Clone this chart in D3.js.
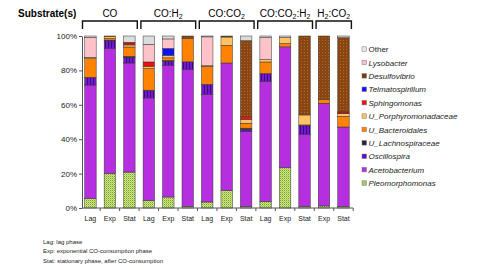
<!DOCTYPE html>
<html>
<head>
<meta charset="utf-8">
<script src="https://cdn.jsdelivr.net/npm/d3@7"></script>
<style>
  body { margin: 0; background: #fff; }
  svg { font-family: "Liberation Sans", Arial, sans-serif; }
</style>
</head>
<body>
<div id="chart"></div>
<script>
// phases on the x axis, one per bar
const phases = ["Lag", "Exp", "Stat", "Lag", "Exp", "Stat", "Lag", "Exp", "Stat", "Lag", "Exp", "Stat", "Exp", "Stat"];
// substrate groups above the bars
const groupNames = ["CO", "CO:H2", "CO:CO2", "CO:CO2:H2", "H2:CO2"];
const groupSizes = [3, 3, 3, 3, 2];

// genera, bottom of the stack first
const taxa = ["Pleomorphomonas", "Acetobacterium", "Oscillospira", "U_Lachnospiraceae", "U_Bacteroidales",
  "U_Porphyromonadaceae", "Sphingomonas", "Telmatospirillum", "Desulfovibrio", "Lysobacter", "Other"];

// relative abundance (%) per bar
const pleo    = [5.6, 20.2, 20.9, 4.5, 6.4, 1.0, 3.5, 10.3, 0.8, 3.9, 23.5, 1.0, 1.2, 1.0];
const aceto   = [65.9, 72.5, 63.4, 59.5, 76.4, 79.5, 62.6, 74.0, 43.6, 69.8, 70.2, 41.9, 59.7, 46.1];
const oscill  = [4.5, 4.5, 3.1, 4.5, 2.5, 4.5, 5.8, 0, 1.2, 4.5, 0, 5.2, 0, 0];
const lachno  = [0, 0.4, 0.8, 0, 0.5, 0, 0, 0, 0.8, 0, 0, 0, 0, 0];
const bact    = [10.8, 1.0, 5.4, 12.6, 1.5, 13.6, 10.5, 10.3, 2.9, 6.7, 1.9, 0.2, 2.3, 6.2];
const porph   = [0.8, 1.0, 1.2, 1.3, 1.5, 0.2, 0.3, 4.8, 2.3, 1.4, 3.5, 5.8, 0, 1.5];
const sphingo = [0, 0, 1.2, 2.5, 0, 0, 0, 0, 1.5, 0, 0, 0, 0, 1.0];
const telmato = [0, 0, 0, 0, 4.0, 0, 0, 0, 0, 0, 0, 0, 0, 0];
const desulfo = [0, 0.4, 0, 0, 0, 1.2, 0, 0.6, 44.2, 0, 0, 45.9, 36.8, 43.2];
const lyso    = [11.6, 0, 0.3, 10.3, 5.5, 0, 16.8, 0, 0, 12.8, 0, 0, 0, 0];
const other   = [0.8, 0, 3.7, 4.8, 1.7, 0, 0.5, 0, 2.7, 0.9, 0.9, 0, 0, 1.0];

const yTicks = [0, 20, 40, 60, 80, 100];
const notes = ["Lag: lag phase", "Exp: exponential CO-consumption phase", "Stat: stationary phase, after CO-consumption"];

const seriesValues = [pleo, aceto, oscill, lachno, bact, porph, sphingo, telmato, desulfo, lyso, other];

const width = 480, height = 270;
const svg = d3.select("#chart").append("svg")
  .attr("width", width)
  .attr("height", height);

// fill patterns
const defs = svg.append("defs");
const pGreen = defs.append("pattern").attr("id", "pat-pleo")
  .attr("patternUnits", "userSpaceOnUse").attr("width", 2).attr("height", 2);
pGreen.append("rect").attr("width", 2).attr("height", 2).attr("fill", "#cdec7c");
pGreen.append("rect").attr("width", 1).attr("height", 1).attr("fill", "#7a9a3a");
pGreen.append("rect").attr("x", 1).attr("y", 1).attr("width", 1).attr("height", 1).attr("fill", "#a8c860");

const pBrown = defs.append("pattern").attr("id", "pat-desulfo")
  .attr("patternUnits", "userSpaceOnUse").attr("width", 3).attr("height", 3);
pBrown.append("rect").attr("width", 3).attr("height", 3).attr("fill", "#8a4510");
pBrown.append("rect").attr("x", 1).attr("y", 1).attr("width", 1).attr("height", 1).attr("fill", "#a86a3a");

const pPurple = defs.append("pattern").attr("id", "pat-oscill")
  .attr("patternUnits", "userSpaceOnUse").attr("width", 3).attr("height", 3);
pPurple.append("rect").attr("width", 3).attr("height", 3).attr("fill", "#7418d0");
pPurple.append("rect").attr("width", 1).attr("height", 3).attr("fill", "#3c0a80");

const color = d3.scaleOrdinal()
  .domain(taxa)
  .range(["url(#pat-pleo)", "#b52ee0", "url(#pat-oscill)", "#28203c", "#ff8200",
    "#ffc264", "#ee1010", "#1010ff", "url(#pat-desulfo)", "#ffc2c8", "#dcdcdc"]);
const swatch = d3.scaleOrdinal()
  .domain(taxa)
  .range(["#a8c860", "#b52ee0", "#6010c0", "#28203c", "#ff8200",
    "#ffc264", "#ee1010", "#1010ff", "#7a3a0a", "#ffc2c8", "#e8e8e8"]);

const x = d3.scaleBand()
  .domain(d3.range(phases.length))
  .range([80.7, 353.2])
  .paddingInner(0.41)
  .paddingOuter(0.205);

const y = d3.scaleLinear().domain([0, 100]).range([208, 36]);

// stacked data
const rows = phases.map((p, i) => {
  const r = { i: i };
  taxa.forEach((t, k) => { r[t] = seriesValues[k][i]; });
  return r;
});
const stack = d3.stack().keys(taxa)(rows);

const bars = svg.append("g");
bars.selectAll("g")
  .data(stack)
  .enter().append("g")
  .attr("fill", d => color(d.key))
  .selectAll("rect")
  .data(d => d.filter(s => s[1] - s[0] > 0))
  .enter().append("rect")
  .attr("x", d => x(d.data.i))
  .attr("width", x.bandwidth())
  .attr("y", d => y(d[1]))
  .attr("height", d => y(d[0]) - y(d[1]))
  .attr("stroke", "#333")
  .attr("stroke-width", 0.5);

// y axis
const yAxis = svg.append("g")
  .attr("transform", "translate(82,0)")
  .call(d3.axisLeft(y).tickValues(yTicks).tickFormat(d => d + "%").tickSize(3).tickSizeOuter(0));
yAxis.select(".domain").attr("stroke", "#555");
yAxis.selectAll(".tick line").attr("stroke", "#555");
yAxis.selectAll("text").attr("font-size", 8).attr("fill", "#222").attr("x", -5);

// x axis: baseline with ticks between bars
const step = x.step();
const edges = d3.range(phases.length + 1).map(i => i < phases.length ? x(i) - step * x.paddingInner() / 2 : x(i - 1) + x.bandwidth() + step * x.paddingInner() / 2);
svg.append("line")
  .attr("x1", 82).attr("x2", edges[edges.length - 1])
  .attr("y1", y(0)).attr("y2", y(0))
  .attr("stroke", "#555");
svg.append("g").selectAll("line")
  .data(edges.slice(1))
  .enter().append("line")
  .attr("x1", d => d).attr("x2", d => d)
  .attr("y1", y(0)).attr("y2", y(0) + 3)
  .attr("stroke", "#555");
svg.append("g").selectAll("text")
  .data(phases)
  .enter().append("text")
  .attr("x", (d, i) => x(i) + x.bandwidth() / 2)
  .attr("y", 221)
  .attr("text-anchor", "middle")
  .attr("font-size", 7)
  .attr("fill", "#222")
  .text(d => d);

// substrate brackets
svg.append("text")
  .attr("x", 18).attr("y", 17)
  .attr("font-size", 10).attr("font-weight", "bold")
  .text("Substrate(s)");

let start = 0;
groupNames.forEach((name, g) => {
  const first = start, last = start + groupSizes[g] - 1;
  const x0 = edges[first] + 1.8, x1 = edges[last + 1] - 1.8;
  svg.append("path")
    .attr("d", `M${x0},29V21H${x1}V29`)
    .attr("fill", "none")
    .attr("stroke", "#111")
    .attr("stroke-width", 1.4);
  const t = svg.append("text")
    .attr("x", (x0 + x1) / 2).attr("y", 17)
    .attr("text-anchor", "middle")
    .attr("font-size", 10);
  name.split(/(2)/).filter(part => part).forEach(part => {
    if (part === "2") {
      t.append("tspan").attr("font-size", 7).attr("baseline-shift", "-1.5").text("2");
    } else {
      t.append("tspan").text(part);
    }
  });
  start += groupSizes[g];
});

// legend, top entry is the top of the stack
const legend = svg.append("g").selectAll("g")
  .data(taxa.slice().reverse())
  .enter().append("g")
  .attr("transform", (d, i) => `translate(362,${49.3 + i * 13.4})`);
legend.append("rect")
  .attr("x", 0).attr("y", -2.5)
  .attr("width", 4.5).attr("height", 4.5)
  .attr("fill", d => swatch(d))
  .attr("stroke", "#777").attr("stroke-width", 0.5);
legend.append("text")
  .attr("x", 6.5).attr("y", 2.8)
  .attr("font-size", 8)
  .attr("font-style", d => d === "Other" ? "normal" : "italic")
  .attr("fill", "#222")
  .text(d => d);

// phase notes
svg.append("g").selectAll("text")
  .data(notes)
  .enter().append("text")
  .attr("x", 43)
  .attr("y", (d, i) => 243.5 + i * 9.5)
  .attr("font-size", 6)
  .attr("fill", "#222")
  .text(d => d);
</script>
</body>
</html>
